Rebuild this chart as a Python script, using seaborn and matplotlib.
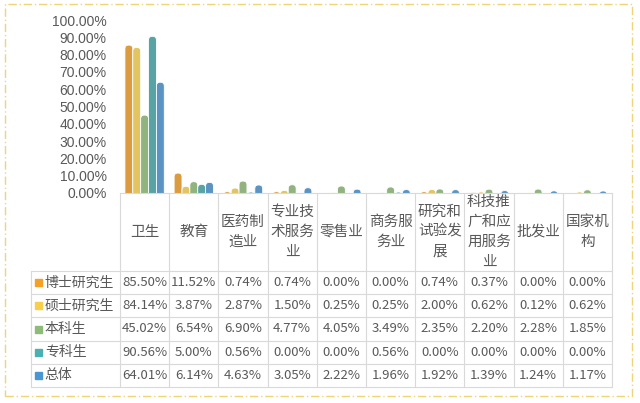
import pandas as pd
import matplotlib
matplotlib.use("Agg")
import matplotlib.pyplot as plt
import seaborn as sns
from matplotlib.patches import Rectangle, FancyBboxPatch

industries = ["卫生", "教育", "医药制造业", "专业技术服务业", "零售业",
              "商务服务业", "研究和试验发展", "科技推广和应用服务业", "批发业", "国家机构"]
header_labels = ["卫生", "教育", "医药制\n造业", "专业技\n术服务\n业", "零售业",
                 "商务服\n务业", "研究和\n试验发\n展", "科技推\n广和应\n用服务\n业", "批发业", "国家机\n构"]
groups = ["博士研究生", "硕士研究生", "本科生", "专科生", "总体"]

phd = [85.50, 11.52, 0.74, 0.74, 0.00, 0.00, 0.74, 0.37, 0.00, 0.00]
master = [84.14, 3.87, 2.87, 1.50, 0.25, 0.25, 2.00, 0.62, 0.12, 0.62]
bachelor = [45.02, 6.54, 6.90, 4.77, 4.05, 3.49, 2.35, 2.20, 2.28, 1.85]
college = [90.56, 5.00, 0.56, 0.00, 0.00, 0.56, 0.00, 0.00, 0.00, 0.00]
overall = [64.01, 6.14, 4.63, 3.05, 2.22, 1.96, 1.92, 1.39, 1.24, 1.17]

colors = ["#F5A026", "#F8CF4B", "#8DBB78", "#4BB0B2", "#4A96D4"]

series = [phd, master, bachelor, college, overall]
df = pd.DataFrame({
    "industry": [ind for s in series for ind in industries],
    "group": [g for g, s in zip(groups, series) for _ in s],
    "value": [v for s in series for v in s],
})

sns.set_style("white")
plt.rcParams["font.family"] = ["Noto Sans CJK SC", "DejaVu Sans"]

W, H = 640, 403
fig = plt.figure(figsize=(6.4, 4.03), dpi=100)

# bar area (pixel layout)
left, right, top, bottom = 120, 612, 20, 193
ax = fig.add_axes([left / W, 1 - bottom / H, (right - left) / W, (bottom - top) / H])
sns.barplot(data=df, x="industry", y="value", hue="group", order=industries,
            hue_order=groups, palette=colors, width=0.8, edgecolor="white",
            linewidth=0.7, legend=False, ax=ax)
ax.set_xlim(-0.5, len(industries) - 0.5)
ax.set_ylim(0, 100)

# rounded bar tops, like the reference
unit = (right - left) / len(industries)      # px per category
aspect = (100 / (bottom - top)) * unit        # y-units per x-unit, in pixels
for p in list(ax.patches):
    x, w, h = p.get_x(), p.get_width(), p.get_height()
    fc = p.get_facecolor()
    p.remove()
    rad = w / 2 * 0.95
    ext = 3 * rad * aspect
    ax.add_patch(FancyBboxPatch((x, -ext), w, h + ext,
                                boxstyle=f"round,pad=0,rounding_size={rad}",
                                mutation_aspect=aspect, facecolor=fc,
                                edgecolor="white", linewidth=0.6))

ax.set_yticks(range(0, 101, 10))
ax.set_yticklabels([f"{t:.2f}%" for t in range(0, 101, 10)],
                   fontsize=10, color="#595959", family=["Liberation Sans", "DejaVu Sans"])
ax.tick_params(axis="y", length=0, pad=9.5)
ax.set_xticks([])
ax.set_xlabel("")
ax.set_ylabel("")
for sp in ["top", "right", "left"]:
    ax.spines[sp].set_visible(False)
ax.spines["bottom"].set_color("#D9D9D9")

# data table underneath, sharing the category scale
tleft = 31
leg_w = (left - tleft) / unit
tbot = 387
tax = fig.add_axes([tleft / W, 1 - tbot / H, (right - tleft) / W, (tbot - bottom) / H])
tax.set_xlim(-0.5 - leg_w, len(industries) - 0.5)
tax.set_ylim(tbot, bottom)
tax.axis("off")

line_c = "#D9D9D9"
head_bot = 271
row_h = (tbot - head_bot) / len(groups)
n = len(industries)
for k in range(n + 1):
    tax.plot([k - 0.5, k - 0.5], [bottom, tbot], color=line_c, lw=0.8, clip_on=False)
tax.plot([-0.5 - leg_w, -0.5 - leg_w], [head_bot, tbot], color=line_c, lw=0.8, clip_on=False)
for r in range(len(groups) + 1):
    y = head_bot + r * row_h
    tax.plot([-0.5 - leg_w, n - 0.5], [y, y], color=line_c, lw=0.8, clip_on=False)

for j, lab in enumerate(header_labels):
    tax.text(j, (bottom + head_bot) / 2, lab, ha="center", va="center",
             fontsize=10.5, color="#595959", linespacing=1.55)

for i, (g, s) in enumerate(zip(groups, series)):
    yc = head_bot + (i + 0.5) * row_h
    x0 = -0.5 - leg_w + 0.08
    tax.add_patch(Rectangle((x0, yc - 3.5), 0.15, 7, color=colors[i], clip_on=False))
    tax.text(x0 + 0.2, yc, g, ha="left", va="center", fontsize=10, color="#595959")
    for j, v in enumerate(s):
        tax.text(j, yc, f"{v:.2f}%", ha="center", va="center", fontsize=9.5, color="#595959")

# dashed outer frame
fig.patches.append(Rectangle((5 / W, 1 - 396 / H), 627 / W, 392 / H, transform=fig.transFigure,
                             fill=False, edgecolor="#EFD57A", lw=1.0,
                             linestyle=(0, (6, 2, 1, 2))))

fig.savefig("out.png", dpi=100)
